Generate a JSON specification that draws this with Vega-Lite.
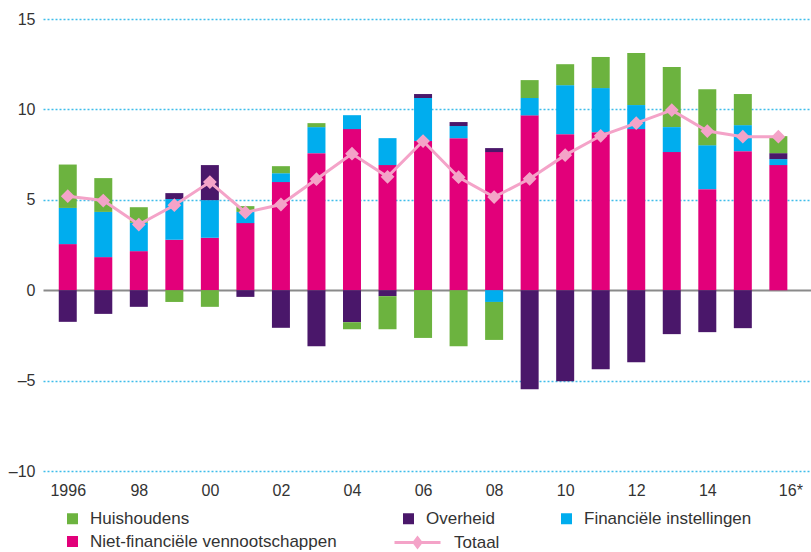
{
  "$schema": "https://vega.github.io/schema/vega-lite/v6.json",
  "width": 768,
  "height": 452,
  "autosize": {"type": "none"},
  "padding": {"left": 43, "top": 19, "right": 0, "bottom": 81},
  "config": {"view": {"stroke": null}, "font": "Liberation Sans"},
  "datasets": {
    "bars": [
      {"year": 1996, "series": "Niet-financiële vennootschappen", "value": 2.55, "o": 1},
      {"year": 1996, "series": "Financiële instellingen", "value": 2.0, "o": 2},
      {"year": 1996, "series": "Huishoudens", "value": 2.4, "o": 4},
      {"year": 1996, "series": "Overheid", "value": -1.75, "o": 3},
      {"year": 1997, "series": "Niet-financiële vennootschappen", "value": 1.83, "o": 1},
      {"year": 1997, "series": "Financiële instellingen", "value": 2.5, "o": 2},
      {"year": 1997, "series": "Huishoudens", "value": 1.87, "o": 4},
      {"year": 1997, "series": "Overheid", "value": -1.31, "o": 3},
      {"year": 1998, "series": "Niet-financiële vennootschappen", "value": 2.16, "o": 1},
      {"year": 1998, "series": "Financiële instellingen", "value": 1.57, "o": 2},
      {"year": 1998, "series": "Huishoudens", "value": 0.86, "o": 4},
      {"year": 1998, "series": "Overheid", "value": -0.92, "o": 3},
      {"year": 1999, "series": "Niet-financiële vennootschappen", "value": 2.79, "o": 1},
      {"year": 1999, "series": "Financiële instellingen", "value": 2.25, "o": 2},
      {"year": 1999, "series": "Overheid", "value": 0.33, "o": 3},
      {"year": 1999, "series": "Huishoudens", "value": -0.65, "o": 4},
      {"year": 2000, "series": "Niet-financiële vennootschappen", "value": 2.9, "o": 1},
      {"year": 2000, "series": "Financiële instellingen", "value": 2.08, "o": 2},
      {"year": 2000, "series": "Overheid", "value": 1.94, "o": 3},
      {"year": 2000, "series": "Huishoudens", "value": -0.92, "o": 4},
      {"year": 2001, "series": "Niet-financiële vennootschappen", "value": 3.71, "o": 1},
      {"year": 2001, "series": "Financiële instellingen", "value": 0.62, "o": 2},
      {"year": 2001, "series": "Huishoudens", "value": 0.32, "o": 4},
      {"year": 2001, "series": "Overheid", "value": -0.37, "o": 3},
      {"year": 2002, "series": "Niet-financiële vennootschappen", "value": 5.98, "o": 1},
      {"year": 2002, "series": "Financiële instellingen", "value": 0.49, "o": 2},
      {"year": 2002, "series": "Huishoudens", "value": 0.39, "o": 4},
      {"year": 2002, "series": "Overheid", "value": -2.08, "o": 3},
      {"year": 2003, "series": "Niet-financiële vennootschappen", "value": 7.58, "o": 1},
      {"year": 2003, "series": "Financiële instellingen", "value": 1.44, "o": 2},
      {"year": 2003, "series": "Huishoudens", "value": 0.22, "o": 4},
      {"year": 2003, "series": "Overheid", "value": -3.1, "o": 3},
      {"year": 2004, "series": "Niet-financiële vennootschappen", "value": 8.91, "o": 1},
      {"year": 2004, "series": "Financiële instellingen", "value": 0.77, "o": 2},
      {"year": 2004, "series": "Overheid", "value": -1.77, "o": 3},
      {"year": 2004, "series": "Huishoudens", "value": -0.39, "o": 4},
      {"year": 2005, "series": "Niet-financiële vennootschappen", "value": 6.92, "o": 1},
      {"year": 2005, "series": "Financiële instellingen", "value": 1.49, "o": 2},
      {"year": 2005, "series": "Overheid", "value": -0.33, "o": 3},
      {"year": 2005, "series": "Huishoudens", "value": -1.83, "o": 4},
      {"year": 2006, "series": "Niet-financiële vennootschappen", "value": 8.25, "o": 1},
      {"year": 2006, "series": "Financiële instellingen", "value": 2.38, "o": 2},
      {"year": 2006, "series": "Overheid", "value": 0.22, "o": 3},
      {"year": 2006, "series": "Huishoudens", "value": -2.64, "o": 4},
      {"year": 2007, "series": "Niet-financiële vennootschappen", "value": 8.41, "o": 1},
      {"year": 2007, "series": "Financiële instellingen", "value": 0.67, "o": 2},
      {"year": 2007, "series": "Overheid", "value": 0.22, "o": 3},
      {"year": 2007, "series": "Huishoudens", "value": -3.1, "o": 4},
      {"year": 2008, "series": "Niet-financiële vennootschappen", "value": 7.64, "o": 1},
      {"year": 2008, "series": "Financiële instellingen", "value": -0.65, "o": 2},
      {"year": 2008, "series": "Overheid", "value": 0.22, "o": 3},
      {"year": 2008, "series": "Huishoudens", "value": -2.1, "o": 4},
      {"year": 2009, "series": "Niet-financiële vennootschappen", "value": 9.67, "o": 1},
      {"year": 2009, "series": "Financiële instellingen", "value": 0.96, "o": 2},
      {"year": 2009, "series": "Huishoudens", "value": 0.99, "o": 4},
      {"year": 2009, "series": "Overheid", "value": -5.48, "o": 3},
      {"year": 2010, "series": "Niet-financiële vennootschappen", "value": 8.63, "o": 1},
      {"year": 2010, "series": "Financiële instellingen", "value": 2.71, "o": 2},
      {"year": 2010, "series": "Huishoudens", "value": 1.16, "o": 4},
      {"year": 2010, "series": "Overheid", "value": -5.04, "o": 3},
      {"year": 2011, "series": "Niet-financiële vennootschappen", "value": 8.74, "o": 1},
      {"year": 2011, "series": "Financiële instellingen", "value": 2.44, "o": 2},
      {"year": 2011, "series": "Huishoudens", "value": 1.72, "o": 4},
      {"year": 2011, "series": "Overheid", "value": -4.37, "o": 3},
      {"year": 2012, "series": "Niet-financiële vennootschappen", "value": 8.91, "o": 1},
      {"year": 2012, "series": "Financiële instellingen", "value": 1.33, "o": 2},
      {"year": 2012, "series": "Huishoudens", "value": 2.88, "o": 4},
      {"year": 2012, "series": "Overheid", "value": -3.98, "o": 3},
      {"year": 2013, "series": "Niet-financiële vennootschappen", "value": 7.64, "o": 1},
      {"year": 2013, "series": "Financiële instellingen", "value": 1.38, "o": 2},
      {"year": 2013, "series": "Huishoudens", "value": 3.32, "o": 4},
      {"year": 2013, "series": "Overheid", "value": -2.43, "o": 3},
      {"year": 2014, "series": "Niet-financiële vennootschappen", "value": 5.59, "o": 1},
      {"year": 2014, "series": "Financiële instellingen", "value": 2.43, "o": 2},
      {"year": 2014, "series": "Huishoudens", "value": 3.1, "o": 4},
      {"year": 2014, "series": "Overheid", "value": -2.32, "o": 3},
      {"year": 2015, "series": "Niet-financiële vennootschappen", "value": 7.69, "o": 1},
      {"year": 2015, "series": "Financiële instellingen", "value": 1.44, "o": 2},
      {"year": 2015, "series": "Huishoudens", "value": 1.72, "o": 4},
      {"year": 2015, "series": "Overheid", "value": -2.1, "o": 3},
      {"year": 2016, "series": "Niet-financiële vennootschappen", "value": 6.92, "o": 1},
      {"year": 2016, "series": "Financiële instellingen", "value": 0.33, "o": 2},
      {"year": 2016, "series": "Overheid", "value": 0.33, "o": 3},
      {"year": 2016, "series": "Huishoudens", "value": 0.94, "o": 4}
    ],
    "totaal": [
      {"year": 1996, "series": "Totaal", "value": 5.2},
      {"year": 1997, "series": "Totaal", "value": 4.96},
      {"year": 1998, "series": "Totaal", "value": 3.63},
      {"year": 1999, "series": "Totaal", "value": 4.7},
      {"year": 2000, "series": "Totaal", "value": 5.98},
      {"year": 2001, "series": "Totaal", "value": 4.3},
      {"year": 2002, "series": "Totaal", "value": 4.74},
      {"year": 2003, "series": "Totaal", "value": 6.14},
      {"year": 2004, "series": "Totaal", "value": 7.55},
      {"year": 2005, "series": "Totaal", "value": 6.27},
      {"year": 2006, "series": "Totaal", "value": 8.25},
      {"year": 2007, "series": "Totaal", "value": 6.25},
      {"year": 2008, "series": "Totaal", "value": 5.15},
      {"year": 2009, "series": "Totaal", "value": 6.16},
      {"year": 2010, "series": "Totaal", "value": 7.47},
      {"year": 2011, "series": "Totaal", "value": 8.54},
      {"year": 2012, "series": "Totaal", "value": 9.24},
      {"year": 2013, "series": "Totaal", "value": 9.96},
      {"year": 2014, "series": "Totaal", "value": 8.8},
      {"year": 2015, "series": "Totaal", "value": 8.49},
      {"year": 2016, "series": "Totaal", "value": 8.49}
    ]
  },
  "layer": [
    {
      "data": {"name": "bars"},
      "mark": {"type": "bar", "width": 18},
      "encoding": {
        "x": {
          "field": "year", "type": "quantitative",
          "scale": {"domain": [1995.444, 2016.778], "nice": false, "zero": false},
          "axis": {
            "title": null,
            "values": [1996, 1998, 2000, 2002, 2004, 2006, 2008, 2010, 2012, 2014, 2016],
            "labelExpr": "datum.value == 1996 ? '1996' : (datum.value == 2016 ? '16*' : slice(format(datum.value, 'd'), 2))",
            "domain": false, "ticks": false, "grid": false,
            "labelFont": "Liberation Sans", "labelFontSize": 16, "labelColor": "#333333",
            "labelAlign": {"condition": {"test": "datum.value == 2016", "value": "left"}, "value": "center"},
            "labelPadding": 11, "labelFlush": false, "labelOverlap": false
          }
        },
        "y": {
          "field": "value", "type": "quantitative", "stack": "zero",
          "scale": {"domain": [-10, 15], "nice": false, "zero": false},
          "axis": {
            "title": null,
            "values": [-10, -5, 0, 5, 10, 15],
            "labelExpr": "datum.value < 0 ? '–' + abs(datum.value) : datum.label",
            "domain": false, "ticks": false, "grid": true,
            "gridColor": {"condition": {"test": "datum.value == 0", "value": "#8a8a8a"}, "value": "#3fbdea"},
            "gridDash": {"condition": {"test": "datum.value == 0", "value": []}, "value": [2, 2]},
            "gridWidth": {"condition": {"test": "datum.value == 0", "value": 2}, "value": 1.6},
            "labelFont": "Liberation Sans", "labelFontSize": 16, "labelColor": "#333333",
            "labelPadding": 8
          }
        },
        "color": {
          "field": "series", "type": "nominal",
          "scale": {
            "domain": ["Huishoudens", "Financiële instellingen", "Overheid", "Niet-financiële vennootschappen"],
            "range": ["#6cb33f", "#00adee", "#4a176a", "#e2007a"]
          },
          "legend": {
            "title": null,
            "orient": "none",
            "legendX": 21,
            "legendY": 491,
            "direction": "vertical",
            "columns": 3,
            "columnPadding": 63,
            "rowPadding": 5,
            "padding": 0,
            "symbolSize": 121,
            "symbolType": "square",
            "symbolStrokeWidth": 0,
            "symbolOffset": 0,
            "labelFont": "Liberation Sans",
            "labelFontSize": 17,
            "labelColor": "#333333",
            "labelLimit": 400,
            "labelOffset": 9
          }
        },
        "order": {"field": "o", "type": "quantitative"}
      }
    },
    {
      "data": {"name": "totaal"},
      "mark": {"type": "line", "strokeWidth": 3, "point": {"shape": "diamond", "size": 120, "filled": true, "fill": "#f4a3c8", "opacity": 1}},
      "encoding": {
        "x": {"field": "year", "type": "quantitative"},
        "y": {"field": "value", "type": "quantitative"},
        "stroke": {
          "field": "series", "type": "nominal",
          "scale": {"domain": ["Totaal"], "range": ["#f4a3c8"]},
          "legend": {
            "title": null,
            "orient": "none",
            "legendX": 350,
            "legendY": 499,
            "padding": 0,
            "symbolType": "M-1,0L1,0M0,-0.2L0.15,0L0,0.2L-0.15,0Z",
            "symbolSize": 2116,
            "symbolStrokeWidth": 3,
            "symbolFillColor": "#f4a3c8",
            "symbolOffset": 0,
            "labelFont": "Liberation Sans",
            "labelFontSize": 17,
            "labelColor": "#333333",
            "labelOffset": 12
          }
        }
      }
    }
  ]
}
